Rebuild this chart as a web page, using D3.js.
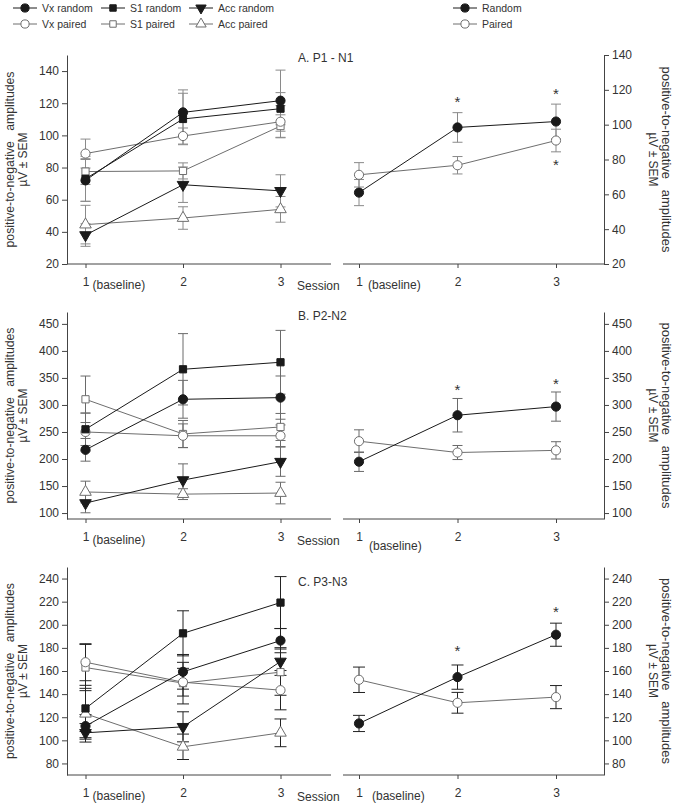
<!DOCTYPE html>
<html><head><meta charset="utf-8">
<script src="https://cdn.jsdelivr.net/npm/d3@7"></script>
<style>body{margin:0;background:#fff}svg text{font-family:"Liberation Sans",Arial,sans-serif;fill:#333}</style>
</head><body><script>
// ---------- DATA ----------
const sessions = [1, 2, 3];
const sessionLabels = ["1", "2", "3"];

// Panel A: P1 - N1
const vxRandomA = [72, 114.3, 121.6],  vxRandomAErr = [13, 14, 19];
const s1RandomA = [73, 110.2, 116.6],  s1RandomAErr = [14, 16, 10];
const accRandomA = [38, 69.3, 65.5],   accRandomAErr = [7, 11, 10];
const vxPairedA = [88.7, 99.6, 108.5], vxPairedAErr = [9, 5, 10];
const s1PairedA = [77.5, 77.9, 105.8], s1PairedAErr = [8, 5, 7];
const accPairedA = [44.5, 48.6, 54],   accPairedAErr = [12, 7, 8];
const randomA = [61, 98.4, 101.8],     randomAErr = [7.5, 8.5, 10];
const pairedA = [71.2, 76.7, 90.9],    pairedAErr = [7, 5, 6.5];
const starsA = [[2, 115], [3, 119.5], [3, 78.5]];
const ticksA = [20, 40, 60, 80, 100, 120, 140];

// Panel B: P2-N2
const vxRandomB = [217, 310.5, 313.6],  vxRandomBErr = [21, 35, 40];
const s1RandomB = [255, 366, 379],      s1RandomBErr = [30, 66, 59];
const accRandomB = [118.5, 161, 195],   accRandomBErr = [18, 30, 27];
const vxPairedB = [250, 243, 243],      vxPairedBErr = [35, 22, 20];
const s1PairedB = [310.5, 246.3, 259.3], s1PairedBErr = [43, 25, 25];
const accPairedB = [139, 135, 137],     accPairedBErr = [20, 10, 20];
const randomB = [195, 281, 297],        randomBErr = [18, 31, 27];
const pairedB = [233, 212, 216],        pairedBErr = [21, 13, 16];
const starsB = [[2, 334], [3, 345]];
const ticksB = [100, 150, 200, 250, 300, 350, 400, 450];

// Panel C: P3-N3
const vxRandomC = [112.3, 159.3, 186.3], vxRandomCErr = [10, 15, 10.5];
const s1RandomC = [127.6, 192.6, 219.2], s1RandomCErr = [20, 19.5, 22.5];
const accRandomC = [106.5, 111.7, 168.2], accRandomCErr = [8, 13, 12];
const vxPairedC = [167.6, 150.3, 143.4], vxPairedCErr = [16, 12, 17];
const s1PairedC = [163, 149.5, 159],     s1PairedCErr = [20, 18, 20];
const accPairedC = [123, 94.4, 106.5],   accPairedCErr = [22, 11, 12];
const randomC = [114.6, 154.7, 191.4],   randomCErr = [7, 10.5, 10];
const pairedC = [152.4, 132.5, 137.4],   pairedCErr = [11, 9, 10];
const starsC = [[2, 179.5], [3, 214]];
const ticksC = [80, 100, 120, 140, 160, 180, 200, 220, 240];

const legendLeft = [["Vx random", "circle", true], ["S1 random", "square", true], ["Acc random", "down", true],
                    ["Vx paired", "circle", false], ["S1 paired", "square", false], ["Acc paired", "up", false]];
const legendRight = [["Random", "circle", true], ["Paired", "circle", false]];

// ---------- DRAWING ----------
const svg = d3.select("body").append("svg").attr("width", 675).attr("height", 805);
const DARK = "#1a1a1a", GREY = "#6e6e6e";

function marker(g, type, filled, x, y, scale = 1) {
  let sym = d3.symbolCircle, size = 66, rot = 0;
  if (type === "square") { sym = d3.symbolSquare; size = 52; }
  if (type === "down") { sym = d3.symbolTriangle; size = 58; rot = 180; }
  if (type === "up") { sym = d3.symbolTriangle; size = 58; }
  g.append("path").attr("d", d3.symbol(sym, size * scale)())
    .attr("transform", `translate(${x},${y}) rotate(${rot})`)
    .attr("fill", filled ? DARK : "#fff")
    .attr("stroke", filled ? DARK : GREY).attr("stroke-width", 1);
}

function drawPlot(p) {
  const x = d3.scaleLinear().domain([1, 3]).range(p.xRange);
  const y = d3.scaleLinear().domain(p.yDomain).range([p.bottom, p.top]);
  const g = svg.append("g");
  // x axis line + ticks
  g.append("line").attr("x1", p.axisX[0]).attr("x2", p.axisX[1]).attr("y1", p.bottom).attr("y2", p.bottom)
    .attr("stroke", "#444").attr("stroke-width", 1);
  const xa = g.append("g").attr("transform", `translate(0,${p.bottom})`)
    .call(d3.axisBottom(x).tickValues(sessions).tickSize(4).tickPadding(9).tickFormat((d, i) => sessionLabels[i]));
  xa.select(".domain").remove();
  xa.selectAll("line").attr("stroke", "#444");
  xa.selectAll("text").attr("font-size", 12).style("font-family", '"Liberation Sans",Arial,sans-serif').attr("fill", "#333");
  g.append("text").attr("x", x(1) + p.baseDx).attr("y", p.bottom + 25 + p.baseDy).attr("font-size", 12).text("(baseline)");
  if (p.session) g.append("text").attr("x", p.axisX[1] - 34).attr("y", p.bottom + 26).attr("font-size", 12).text("Session");
  // y axis
  const ax = (p.side === "left" ? d3.axisLeft(y) : d3.axisRight(y)).tickValues(p.ticks).tickSize(5).tickSizeOuter(0).tickPadding(3);
  const ya = g.append("g").attr("transform", `translate(${p.yAxisX},0)`).call(ax);
  ya.select(".domain").attr("stroke", "#444");
  ya.selectAll("line").attr("stroke", "#444");
  ya.selectAll("text").attr("font-size", 12).style("font-family", '"Liberation Sans",Arial,sans-serif').attr("fill", "#333");
  // y title
  const tx = p.side === "left" ? 14 : 662;
  const cy = (p.top + p.bottom) / 2;
  const t = g.append("text").attr("transform", `translate(${tx},${cy}) rotate(${p.side === "left" ? -90 : 90})`)
    .attr("text-anchor", "middle").attr("font-size", 12);
  t.append("tspan").attr("x", 0).attr("y", 0).attr("textLength", p.side === "left" ? 176 : 186)
    .attr("lengthAdjust", "spacingAndGlyphs").style("white-space", "pre").text("positive-to-negative   amplitudes");
  t.append("tspan").attr("x", 0).attr("y", 13).text("\u00b5V \u00b1 SEM");
  // error bars
  p.series.forEach(s => {
    s.values.forEach((v, i) => {
      const cx = x(sessions[i]);
      g.append("line").attr("x1", cx).attr("x2", cx).attr("y1", y(v - s.err[i])).attr("y2", y(v + s.err[i]))
        .attr("stroke", p.errColor).attr("stroke-width", 1);
      [v - s.err[i], v + s.err[i]].forEach(e => g.append("line").attr("x1", cx - p.cap).attr("x2", cx + p.cap)
        .attr("y1", y(e)).attr("y2", y(e)).attr("stroke", p.errColor).attr("stroke-width", 1));
    });
  });
  // lines
  const line = d3.line().x((d, i) => x(sessions[i])).y(d => y(d));
  p.series.forEach(s => g.append("path").attr("d", line(s.values)).attr("fill", "none")
    .attr("stroke", s.filled ? DARK : GREY).attr("stroke-width", 1));
  // markers (paired first, random on top)
  [...p.series].sort((a, b) => a.filled - b.filled).forEach(s =>
    s.values.forEach((v, i) => marker(g, s.sym, s.filled, x(sessions[i]), y(v))));
  // stars
  (p.stars || []).forEach(([sx, sv]) => g.append("text").attr("x", x(sx)).attr("y", y(sv) + 8)
    .attr("text-anchor", "middle").attr("font-size", 15).text("*"));
}

function mk(vals, err, sym, filled) { return { values: vals, err, sym, filled }; }

const panels = [
  { top: 55, bottom: 264, title: "A. P1 - N1", titleY: 62,
    left: { yDomain: [20, 150], ticks: ticksA, errColor: "#8a8a8a", cap: 5, baseDy: 0, baseDx: 7,
      series: [mk(accPairedA, accPairedAErr, "up", false), mk(s1PairedA, s1PairedAErr, "square", false), mk(vxPairedA, vxPairedAErr, "circle", false),
               mk(accRandomA, accRandomAErr, "down", true), mk(s1RandomA, s1RandomAErr, "square", true), mk(vxRandomA, vxRandomAErr, "circle", true)] },
    right: { yDomain: [20, 140], ticks: ticksA, errColor: "#8a8a8a", cap: 5, baseDy: 0, baseDx: 9, stars: starsA,
      series: [mk(pairedA, pairedAErr, "circle", false), mk(randomA, randomAErr, "circle", true)] } },
  { top: 312, bottom: 519, title: "B. P2-N2", titleY: 320,
    left: { yDomain: [89, 472], ticks: ticksB, errColor: "#6a6a6a", cap: 5, baseDy: 0, baseDx: 7,
      series: [mk(accPairedB, accPairedBErr, "up", false), mk(s1PairedB, s1PairedBErr, "square", false), mk(vxPairedB, vxPairedBErr, "circle", false),
               mk(accRandomB, accRandomBErr, "down", true), mk(s1RandomB, s1RandomBErr, "square", true), mk(vxRandomB, vxRandomBErr, "circle", true)] },
    right: { yDomain: [89, 472], ticks: ticksB, errColor: "#6a6a6a", cap: 5, baseDy: 6, baseDx: 10, stars: starsB,
      series: [mk(pairedB, pairedBErr, "circle", false), mk(randomB, randomBErr, "circle", true)] } },
  { top: 567, bottom: 775, title: "C. P3-N3", titleY: 586,
    left: { yDomain: [70, 250], ticks: ticksC, errColor: "#222", cap: 6, baseDy: 0, baseDx: 7,
      series: [mk(accPairedC, accPairedCErr, "up", false), mk(s1PairedC, s1PairedCErr, "square", false), mk(vxPairedC, vxPairedCErr, "circle", false),
               mk(accRandomC, accRandomCErr, "down", true), mk(s1RandomC, s1RandomCErr, "square", true), mk(vxRandomC, vxRandomCErr, "circle", true)] },
    right: { yDomain: [70, 250], ticks: ticksC, errColor: "#222", cap: 6, baseDy: 0, baseDx: 13, stars: starsC,
      series: [mk(pairedC, pairedCErr, "circle", false), mk(randomC, randomCErr, "circle", true)] } }
];

panels.forEach(P => {
  drawPlot(Object.assign({ top: P.top, bottom: P.bottom, side: "left", xRange: [85.5, 280.5], axisX: [67, 331], yAxisX: 67, session: true }, P.left));
  drawPlot(Object.assign({ top: P.top, bottom: P.bottom, side: "right", xRange: [359, 556], axisX: [343, 604], yAxisX: 604, session: false }, P.right));
  svg.append("text").attr("x", 298).attr("y", P.titleY).attr("font-size", 12).text(P.title);
});

// legend
function legendItem(x0, y0, label, sym, filled) {
  const g = svg.append("g");
  g.append("line").attr("x1", x0).attr("x2", x0 + 24).attr("y1", y0).attr("y2", y0).attr("stroke", filled ? DARK : GREY);
  marker(g, sym, filled, x0 + 12, y0, 0.8);
  g.append("text").attr("x", x0 + 29).attr("y", y0 + 4).attr("font-size", 10.5).text(label);
}
const legendX = [13, 101, 189], legendY = [8, 24];
legendLeft.forEach((d, i) => legendItem(legendX[i % 3], legendY[Math.floor(i / 3)], d[0], d[1], d[2]));
legendRight.forEach((d, i) => legendItem(453, legendY[i], d[0], d[1], d[2]));
</script></body></html>
